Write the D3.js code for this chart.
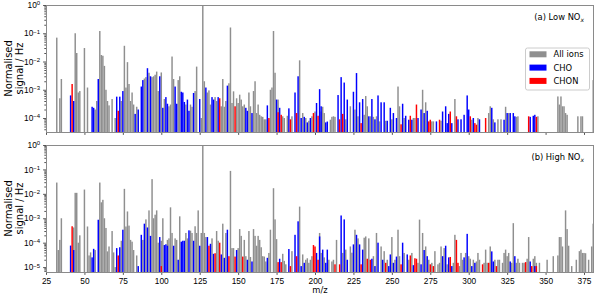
<!DOCTYPE html>
<html>
<head>
<meta charset="utf-8">
<script src="https://cdnjs.cloudflare.com/ajax/libs/d3/7.8.5/d3.min.js"></script>
<style>
body { margin: 0; background: #fff; }
svg { display: block; font-family: "DejaVu Sans", sans-serif; }
</style>
</head>
<body>
<div id="chart-area"></div>
<script>
// [m/z, normalised signal]

// (a) Low NOx
var lowAll = [[32,0.07],[34,5e-4],[35,2.4e-3],[44,0.1],[45,0.02],[46,8e-4],[47,9e-4],[50,0.03],[52,1.2e-3],[57,2e-4],[58,4e-4],
    [60,0.12],[61,0.017],[62,0.016],[63,7e-3],[64,1e-3],[65,4e-4],[66,2.8e-4],[68,4.7e-4],[70,1e-4],[74,4e-4],[76,0.036],[77,1.2e-3],
    [78,9.5e-3],[79,1.6e-3],[80,4e-4],[81,8e-4],[82,3e-4],[84,2.5e-4],[89,2.5e-3],[90,2.8e-3],[92,4e-3],[94,2.8e-3],[95,3e-3],[96,3.4e-3],
    [97,4.4e-3],[98,9e-4],[100,4.1e-3],[102,4.7e-4],[105,2.6e-4],[106,3e-4],[107,0.015],[108,2.4e-3],[111,2.2e-3],[112,3e-3],[116,3e-4],
    [119,3e-4],[120,2.5e-4],[122,9e-4],[123,6.6e-3],[126,1e-4],[127,1],[128,2e-3],[130,8e-4],[131,9.5e-4],[132,3e-4],[135,5.5e-4],
    [136,4e-4],[139,2.6e-4],[140,2.4e-3],[141,2.5e-4],[142,4e-4],[144,1.7e-3],[145,0.16],[146,3.4e-4],[147,8.8e-4],[149,5e-4],[150,3.4e-4],
    [151,6.7e-4],[152,4.5e-4],[153,2.6e-4],[154,3e-4],[157,8e-4],[158,2.6e-4],[160,9e-4],[161,2e-3],[162,1.5e-4],[163,3e-4],[164,1.3e-4],
    [165,1.15e-4],[166,1.1e-4],[167,9e-5],[168,9e-5],[171,1e-3],[172,1.2e-3],[173,0.12],[174,4e-3],[176,4.5e-4],[179,1.15e-4],[180,1e-4],
    [182,1.2e-4],[185,1.15e-4],[190,0.011],[192,1.5e-4],[194,1e-4],[196,8e-5],[198,1.15e-4],[200,1.7e-4],[204,1.7e-4],[205,2.5e-4],
    [206,1.5e-4],[210,8.7e-5],[211,1.1e-4],[212,1.15e-4],[213,1.1e-4],[220,9e-5],[223,2.6e-4],[226,2e-4],[228,1.15e-4],[232,1.3e-4],
    [233,6e-4],[234,2.6e-4],[236,1.15e-4],[238,1.1e-4],[240,1.15e-4],[242,7.6e-5],[246,8e-5],[250,9e-5],[254,1.3e-3],[255,2.6e-4],
    [258,1e-4],[264,1e-4],[265,1e-4],[270,1e-3],[272,3.6e-4],[276,7.6e-5],[277,7.6e-5],[282,8e-5],[291,4.7e-4],[302,8.7e-5],[306,1e-4],
    [313,1.5e-4],[314,2.6e-4],[316,9e-5],[319,9e-5],[321,9e-5],[324,2.5e-4],[326,1.5e-4],[331,1.1e-4],[332,1.15e-4],[345,1.15e-4],
    [358,5.8e-4],[359,3e-4],[360,5.8e-4],[361,2.6e-4],[362,2.6e-4],[363,1.5e-4],[364,1.3e-4],[371,1.15e-4],[373,1.15e-4],[374,1.15e-4],
    [381,2.2e-3]];

var lowCHO = [[41,6.3e-4],[43,4e-4],[55,2.5e-4],[56,2.3e-4],[59,2.4e-3],[71,5.7e-4],[73,5.7e-4],[75,9e-4],[83,1.4e-4],[85,2e-4],
    [87,1.3e-3],[88,2.2e-3],[91,5.8e-3],[93,3e-3],[99,3e-3],[101,2.3e-4],[103,5.5e-4],[104,3.2e-4],[109,1.3e-3],[110,3.2e-4],[113,8.5e-4],
    [114,8e-4],[115,3.7e-4],[117,4.5e-4],[118,1.8e-4],[121,7.7e-4],[125,4.7e-4],[129,1.2e-3],[133,5.5e-4],[134,4.5e-4],[137,5.5e-4],
    [143,1.4e-3],[155,2.3e-4],[156,1.8e-4],[159,1.5e-4],[169,2.8e-4],[175,4.5e-4],[177,2.3e-4],[183,2.2e-4],[187,8e-4],[189,3e-3],
    [191,1e-4],[193,1.1e-4],[195,7e-5],[197,1e-4],[201,3.4e-4],[203,1.05e-3],[204,2.6e-4],[207,7e-5],[208,7.5e-5],[215,6.5e-4],
    [217,2.8e-3],[219,1.8e-3],[221,4.5e-4],[225,8.5e-4],[227,3.9e-3],[229,3.6e-4],[231,4.7e-4],[235,1.15e-4],[237,4.7e-4],[239,9e-5],
    [241,6.3e-4],[243,3.6e-4],[245,3.6e-4],[247,8e-5],[249,2.3e-4],[251,1.5e-4],[253,1e-4],[257,3.2e-4],[259,1.2e-4],[261,8.7e-5],
    [263,8.7e-5],[267,1e-4],[269,2e-4],[271,1.5e-4],[273,1.8e-4],[279,7.6e-5],[283,1.7e-4],[285,2.6e-4],[286,6.6e-5],[287,1.4e-4],
    [289,6.6e-5],[293,9e-5],[295,9e-5],[297,1.3e-4],[299,6.3e-4],[300,2e-4],[303,1e-4],[307,9e-5],[315,2.3e-4],[317,7e-5],[323,8.7e-5],
    [325,1.5e-4],[327,1.5e-4],[329,1.5e-4],[330,1.15e-4],[340,1.1e-4],[342,1.2e-4],[343,1.3e-4]];

var lowCHON = [[42,1.6e-3],[72,1.8e-4],[138,5e-4],[148,2.6e-4],[170,1e-4],[176,1.6e-4],[178,1.3e-4],[184,9e-5],[188,1.5e-4],
    [199,1.5e-4],[202,1.2e-4],[216,9e-5],[218,1.4e-4],[230,6.6e-5],[256,6e-5],[262,1.2e-4],[266,3e-4],[274,7.6e-5],[275,8.7e-5],
    [281,8.7e-5],[288,1.7e-4],[292,1.15e-4],[301,1.15e-4],[304,6.6e-5],[305,5.8e-5],[311,1e-4],[339,1.15e-4],[344,1.1e-4]];

// (b) High NOx
var highAll = [[32,0.029],[33,5e-5],[34,1.3e-4],[35,1e-3],[43,4.2e-4],[44,0.011],[45,0.011],[46,1e-4],[47,2e-4],[50,0.015],[52,4.6e-4],
    [53,3e-5],[54,4e-5],[57,5e-5],[60,0.029],[61,4.5e-3],[62,5.7e-3],[63,1e-3],[64,4e-4],[65,4.4e-5],[66,7e-5],[68,3e-4],[69,4e-5],
    [70,1e-5],[74,1.2e-4],[76,0.016],[77,4.6e-4],[78,1.9e-3],[79,5e-4],[80,1.3e-4],[81,1.1e-4],[82,5e-5],[84,3e-5],[88,1.3e-4],[90,9e-4],
    [92,2.1e-3],[94,0.04],[95,1e-3],[96,1.4e-3],[97,2.1e-3],[98,1e-4],[100,1.2e-4],[101,1e-3],[104,1.3e-4],[105,1.5e-4],[106,2.8e-3],
    [107,2.5e-4],[109,1.5e-4],[110,1.3e-4],[112,1.2e-3],[116,2.5e-4],[117,1.5e-4],[119,3.1e-4],[120,2.5e-4],[122,4.7e-4],[123,2.5e-4],
    [124,2.1e-3],[126,2.5e-4],[127,1],[128,2.5e-4],[129,1.7e-4],[133,1.5e-4],[136,3e-4],[137,1.2e-4],[140,6e-4],[142,2.5e-4],[145,0.087],
    [146,6e-5],[147,6e-5],[150,6e-5],[151,3.6e-4],[152,1.9e-4],[154,1.3e-4],[155,2.8e-5],[157,3e-4],[158,2.6e-5],[160,3.6e-4],[161,1.9e-4],
    [162,7.5e-5],[163,1.9e-4],[164,1.3e-4],[165,6.5e-5],[166,2.8e-5],[167,2.7e-5],[168,1.7e-5],[170,3.8e-5],[171,3.4e-4],[173,0.017],
    [174,9e-4],[175,1.4e-4],[179,3.5e-5],[180,1.8e-5],[181,1.3e-5],[185,4.5e-5],[190,3e-3],[192,3.3e-5],[194,2e-5],[195,2.3e-5],
    [196,1.5e-5],[197,2e-5],[198,2.8e-5],[203,2.5e-4],[204,3.8e-5],[206,2.5e-5],[209,2e-5],[211,1.7e-5],[212,2e-5],[214,1.3e-4],
    [218,3.8e-5],[220,5.2e-5],[223,7e-5],[224,3.9e-5],[226,3.4e-4],[228,1.5e-4],[232,1.6e-4],[233,1.8e-4],[235,1.5e-4],[238,2.8e-5],
    [240,2.5e-4],[243,7e-5],[245,4.5e-5],[247,2e-5],[250,1.7e-4],[252,2e-5],[254,3.4e-4],[255,2.8e-5],[258,3.8e-5],[261,2e-5],[263,3.8e-5],
    [267,1.5e-5],[268,8.8e-4],[270,2.5e-4],[272,7e-5],[274,2e-5],[276,1.5e-5],[278,4.5e-5],[280,1.3e-5],[281,1.5e-5],[282,7e-5],[284,6e-5],
    [286,1.3e-5],[290,1.5e-5],[291,2.1e-4],[294,1.1e-5],[295,3.8e-5],[296,2e-5],[298,3.8e-5],[300,2.8e-5],[301,2.2e-5],[303,2e-5],
    [305,1.7e-5],[306,3.8e-5],[307,2e-5],[310,1.5e-5],[311,5.2e-5],[312,1.5e-5],[314,7e-5],[317,2e-5],[319,2e-5],[320,2e-5],[322,1.5e-5],
    [323,3.8e-5],[324,5.2e-5],[325,2.8e-5],[326,3.8e-5],[328,1.5e-5],[329,6.3e-4],[331,1.5e-5],[332,2.2e-5],[333,1.5e-5],[335,1.5e-5],
    [336,1.5e-5],[338,2.2e-5],[339,1.7e-4],[342,2.2e-5],[343,2.8e-5],[344,1.5e-5],[346,1.5e-5],[351,2e-5],[355,2.8e-5],[358,3e-5],
    [359,1.7e-4],[360,1.7e-4],[361,7e-5],[363,2.1e-3],[364,3.6e-4],[365,7.5e-5],[367,1.1e-5],[370,2e-5],[372,4.5e-5],[373,5.2e-5],
    [374,3.8e-5],[375,3.8e-5],[376,3.7e-5],[378,2e-5],[380,7e-5],[381,6e-4]];

var highCHO = [[41,7.6e-5],[43,5e-5],[55,2.5e-5],[56,5.6e-5],[59,8.7e-4],[71,6e-5],[73,6.5e-5],[75,3.4e-4],[85,1.1e-5],[87,2.1e-4],
    [89,6e-4],[91,4.2e-4],[93,1.9e-4],[99,1.7e-4],[102,8e-5],[103,8.6e-5],[104,7.5e-5],[108,7.5e-5],[111,2e-5],[113,1.1e-4],[114,1.2e-4],
    [115,1.2e-4],[118,3.2e-4],[121,1.2e-4],[125,7.5e-5],[130,1.7e-4],[132,9e-5],[134,3.5e-5],[139,3.3e-5],[141,2.4e-5],[143,3.4e-4],
    [149,5e-5],[156,2e-5],[159,1.7e-5],[169,2.4e-5],[177,2.2e-5],[183,5.5e-5],[187,2.1e-4],[189,7.5e-4],[191,1.1e-5],[193,1.5e-5],
    [201,3.8e-5],[203,1.8e-4],[205,5.2e-5],[207,1.5e-5],[208,5.2e-5],[217,1.3e-3],[219,9e-4],[221,2e-5],[225,8.5e-5],[227,2.1e-4],
    [229,8.5e-5],[231,5.2e-5],[237,2.2e-5],[239,1.1e-5],[241,1e-4],[244,2e-5],[248,1.1e-5],[249,3.3e-5],[251,1.5e-5],[253,2.7e-5],
    [257,1e-4],[260,3.3e-5],[264,1.2e-5],[269,1.3e-5],[271,5e-5],[273,2.8e-5],[283,2.8e-5],[285,7.5e-5],[287,2.5e-5],[289,1.1e-5],
    [297,2.5e-5],[299,2.3e-4],[302,1.1e-5],[304,1.5e-5],[315,4.4e-5],[316,1.7e-5],[327,1.7e-5],[330,2.8e-5],[340,1.7e-5],[343,1.1e-5]];

var highCHON = [[42,4.7e-4],[72,3e-5],[100,1.1e-5],[131,7.5e-5],[135,3.7e-5],[138,1e-4],[144,2.8e-5],[148,2.7e-5],[153,2.7e-5],
    [176,1.6e-5],[178,1.6e-5],[184,1.1e-5],[188,2.8e-5],[199,8e-5],[200,7e-5],[202,2e-5],[213,1.3e-5],[216,1.3e-5],[230,1.3e-5],
    [234,2.2e-5],[236,2e-5],[246,1.5e-5],[256,1.3e-5],[262,3e-5],[265,2.3e-5],[266,2.2e-5],[275,1.3e-5],[277,1.1e-5],[288,2.6e-5],
    [292,1.3e-4],[293,1.5e-5],[309,1.3e-5],[313,1.5e-5],[318,1.1e-5],[337,1.6e-5],[341,1.1e-5],[344,1.1e-5]];

var seriesNames = ["All ions", "CHO", "CHON"];
var seriesColours = ["#8f8f8f", "#0000ff", "#ff0000"];
var xTicks = d3.range(25, 376, 25);

var width = 595, height = 295;
var left = 46, right = 594;

var svg = d3.select("#chart-area")
    .append("svg")
        .attr("width", width)
        .attr("height", height);

var x = d3.scaleLinear()
    .domain([25, 381.5])
    .range([left, right]);

var panels = [
    { top: 5, bottom: 132, ymin: 3.2e-5, title: "(a) Low NO", data: [lowAll, lowCHO, lowCHON], last: false },
    { top: 145, bottom: 272, ymin: 6.3e-6, title: "(b) High NO", data: [highAll, highCHO, highCHON], last: true }
];

var bw = (x(1) - x(0)) * 0.95;

panels.forEach(function(p, i) {
    var y = d3.scaleLog()
        .domain([p.ymin, 1])
        .range([p.bottom, p.top]);

    svg.append("clipPath")
        .attr("id", "clip" + i)
      .append("rect")
        .attr("x", left)
        .attr("y", p.top)
        .attr("width", right - left)
        .attr("height", p.bottom - p.top);

    var bars = svg.append("g").attr("clip-path", "url(#clip" + i + ")");

    // All ions first, then CHO and CHON on top
    p.data.forEach(function(s, k) {
        bars.append("g")
            .attr("fill", seriesColours[k])
          .selectAll("rect")
            .data(s)
          .enter().append("rect")
            .attr("x", function(d){ return x(d[0]) - bw / 2; })
            .attr("y", function(d){ return y(d[1]); })
            .attr("width", bw)
            .attr("height", function(d){ return p.bottom - y(d[1]); });
    });

    // Y axis (log, major + minor)
    var lo = Math.log10(p.ymin);
    var majors = d3.range(0, Math.ceil(lo) - 1, -1);
    var minors = [];
    d3.range(Math.floor(lo), 0).forEach(function(e) {
        d3.range(2, 10).forEach(function(k) {
            var v = k * Math.pow(10, e);
            if (v >= p.ymin && v <= 1) minors.push(v);
        });
    });

    var yMinor = svg.append("g")
        .attr("transform", "translate(" + left + ",0)")
        .call(d3.axisLeft(y).tickValues(minors).tickSize(1.7).tickFormat(""));
    yMinor.select(".domain").remove();

    var yMajor = svg.append("g")
        .attr("transform", "translate(" + left + ",0)")
        .call(d3.axisLeft(y).tickValues(majors.map(function(e){ return Math.pow(10, e); }))
            .tickSize(2.9).tickPadding(2.9).tickFormat(""));
    yMajor.select(".domain").remove();

    yMajor.selectAll(".tick text")
        .attr("font-size", "8.33px")
        .attr("fill", "#000")
        .each(function(d) {
            var e = Math.round(Math.log10(d));
            var t = d3.select(this).text(null);
            t.append("tspan").text("10");
            t.append("tspan")
                .attr("dy", "-0.45em")
                .attr("font-size", "6px")
                .text(e < 0 ? "\u2212" + (-e) : e);
        });

    // X axis
    var xg = svg.append("g")
        .attr("transform", "translate(0," + p.bottom + ")")
        .call(d3.axisBottom(x).tickValues(xTicks).tickSize(2.9).tickPadding(2.9)
            .tickFormat(p.last ? d3.format("d") : ""));
    xg.select(".domain").remove();
    xg.selectAll("text").attr("font-size", "8.33px").attr("fill", "#000");

    svg.selectAll(".tick line").attr("stroke", "#555");

    // frame
    svg.append("rect")
        .attr("x", left + 0.5)
        .attr("y", p.top + 0.5)
        .attr("width", right - left - 1)
        .attr("height", p.bottom - p.top)
        .attr("fill", "none")
        .attr("stroke", "#8a8a8a")
        .attr("stroke-width", 1);

    // panel label
    var ann = svg.append("text")
        .attr("x", 584)
        .attr("y", p.top + 15)
        .attr("text-anchor", "end")
        .attr("font-size", "8.33px");
    ann.append("tspan").text(p.title);
    ann.append("tspan")
        .attr("dy", "0.3em")
        .attr("font-size", "6px")
        .attr("font-style", "italic")
        .text("x");

    // Y label
    var yl = svg.append("text")
        .attr("transform", "translate(11.5," + ((p.top + p.bottom) / 2) + ") rotate(-90)")
        .attr("text-anchor", "middle")
        .attr("font-size", "10px");
    yl.append("tspan").attr("x", 0).attr("dy", 0).text("Normalised");
    yl.append("tspan").attr("x", 0).attr("dy", "1.15em").text("signal / Hz");

    // Legend (top panel only)
    if (i === 0) {
        var lg = svg.append("g").attr("transform", "translate(525.5,48)");
        lg.append("rect")
            .attr("width", 64)
            .attr("height", 42)
            .attr("rx", 2)
            .attr("fill", "#fff")
            .attr("fill-opacity", 0.8)
            .attr("stroke", "#cccccc");
        seriesNames.forEach(function(name, k) {
            lg.append("rect")
                .attr("x", 4)
                .attr("y", 6.3 + k * 13.3 - 3)
                .attr("width", 17)
                .attr("height", 6)
                .attr("fill", seriesColours[k]);
            lg.append("text")
                .attr("x", 28)
                .attr("y", 6.3 + k * 13.3 + 3)
                .attr("font-size", "8.33px")
                .text(name);
        });
    }
});

// X label
svg.append("text")
    .attr("x", (left + right) / 2)
    .attr("y", 293)
    .attr("text-anchor", "middle")
    .attr("font-size", "8.33px")
    .text("m/z");
</script>
</body>
</html>
